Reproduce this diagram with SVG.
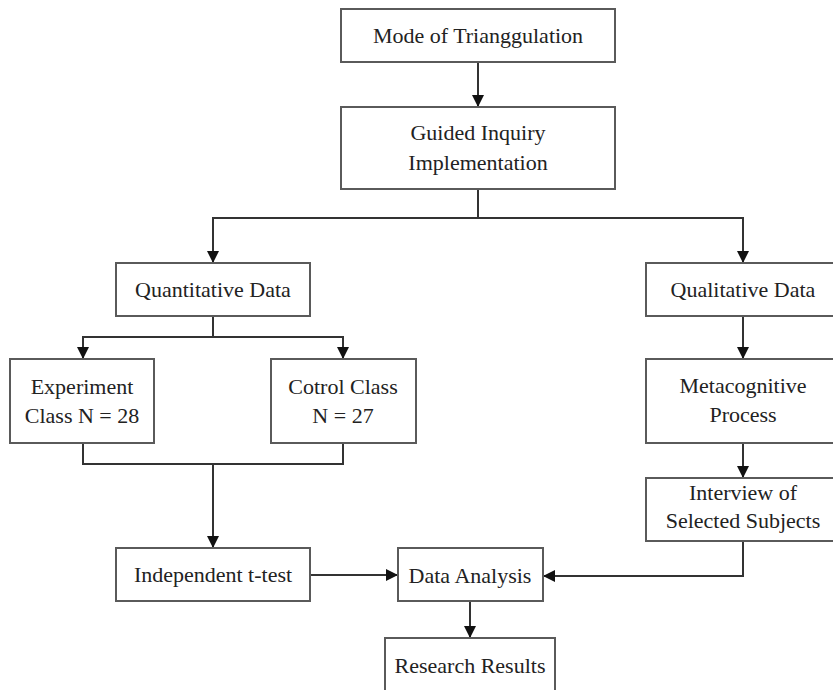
<svg xmlns="http://www.w3.org/2000/svg" width="833" height="690" viewBox="0 0 833 690">
<style>
.box{fill:#fff;stroke:#5a5a5a;stroke-width:2}
.t{font-family:'Liberation Serif','DejaVu Serif',serif;font-size:22px;fill:#222;text-anchor:middle}
.c{fill:none;stroke:#333;stroke-width:2}
</style>
<defs>
<marker id="ah" viewBox="0 0 12 12" refX="12" refY="6" markerWidth="12" markerHeight="12" markerUnits="userSpaceOnUse" orient="auto">
<path d="M0,0 L12,6 L0,12 Z" fill="#111"/>
</marker>
</defs>
<rect width="833" height="690" fill="#fff"/>
<g id="connectors">
<path class="c" d="M478,62 V107" marker-end="url(#ah)"/>
<path class="c" d="M478,189 V218 H213 V263" marker-end="url(#ah)"/>
<path class="c" d="M478,218 H743 V263" marker-end="url(#ah)"/>
<path class="c" d="M213,316 V337 H83 V359" marker-end="url(#ah)"/>
<path class="c" d="M213,337 H343 V359" marker-end="url(#ah)"/>
<path class="c" d="M83,443 V464 H343 V443"/>
<path class="c" d="M213,464 V548" marker-end="url(#ah)"/>
<path class="c" d="M743,316 V359" marker-end="url(#ah)"/>
<path class="c" d="M743,443 V478" marker-end="url(#ah)"/>
<path class="c" d="M743,541 V576 H543" marker-end="url(#ah)"/>
<path class="c" d="M310,575 H398" marker-end="url(#ah)"/>
<path class="c" d="M470,601 V638" marker-end="url(#ah)"/>
</g>
<g id="mode"><rect class="box" x="341" y="9" width="274" height="53"/><text class="t" x="478" y="43" font-family="Liberation Serif, serif">Mode of Trianggulation</text></g>
<g id="guided"><rect class="box" x="341" y="107" width="274" height="82"/><text class="t" x="478" y="140">Guided Inquiry</text><text class="t" x="478" y="170">Implementation</text></g>
<g id="quantitative"><rect class="box" x="116" y="263" width="194" height="53"/><text class="t" x="213" y="297">Quantitative Data</text></g>
<g id="qualitative"><rect class="box" x="646" y="263" width="194" height="53"/><text class="t" x="743" y="297">Qualitative Data</text></g>
<g id="experiment"><rect class="box" x="10" y="359" width="144" height="84"/><text class="t" x="82" y="394">Experiment</text><text class="t" x="82" y="423">Class N = 28</text></g>
<g id="control"><rect class="box" x="271" y="359" width="145" height="84"/><text class="t" x="343" y="394">Cotrol Class</text><text class="t" x="343" y="423">N = 27</text></g>
<g id="metacognitive"><rect class="box" x="646" y="359" width="194" height="84"/><text class="t" x="743" y="393">Metacognitive</text><text class="t" x="743" y="422">Process</text></g>
<g id="interview"><rect class="box" x="646" y="478" width="194" height="63"/><text class="t" x="743" y="500">Interview of</text><text class="t" x="743" y="528">Selected Subjects</text></g>
<g id="ttest"><rect class="box" x="116" y="548" width="194" height="53"/><text class="t" x="213" y="582">Independent t-test</text></g>
<g id="analysis"><rect class="box" x="398" y="548" width="145" height="53"/><text class="t" x="470" y="583">Data Analysis</text></g>
<g id="results"><rect class="box" x="385" y="638" width="170" height="60"/><text class="t" x="470" y="673">Research Results</text></g>
</svg>
